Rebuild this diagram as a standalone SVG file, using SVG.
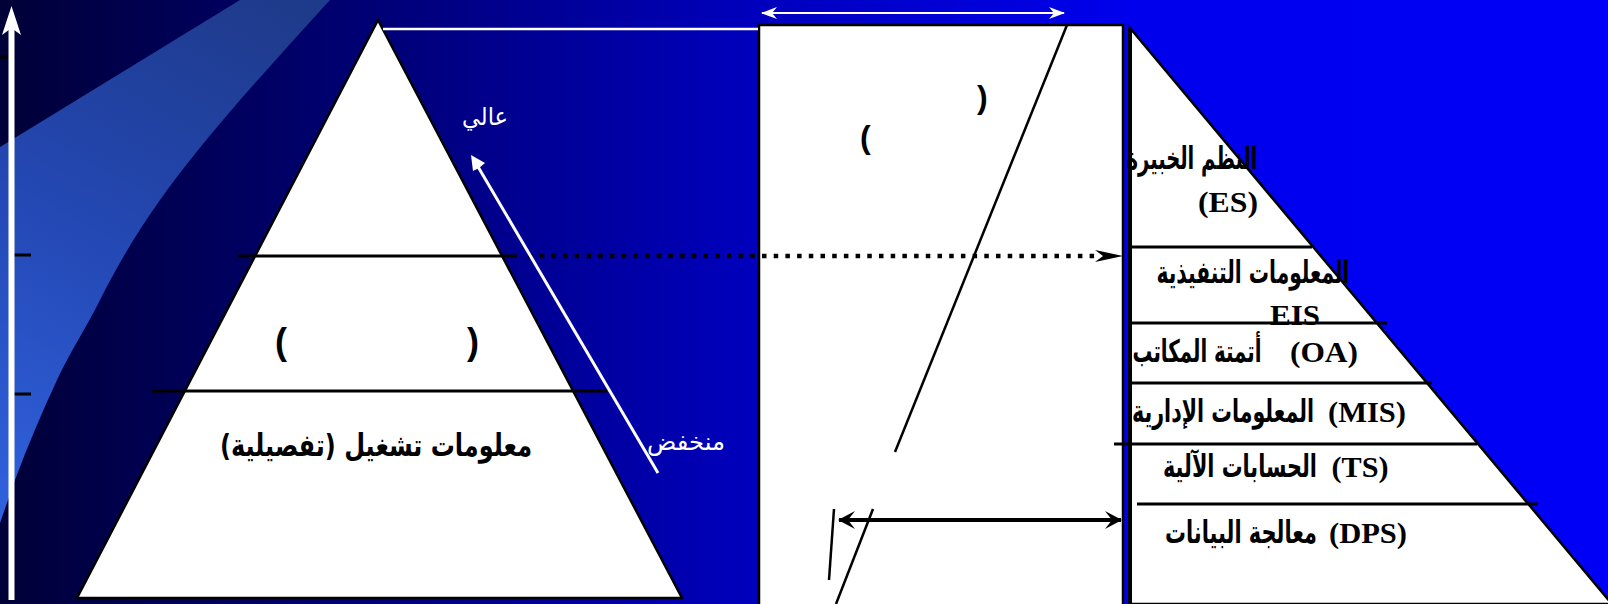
<svg xmlns="http://www.w3.org/2000/svg" width="1608" height="604" viewBox="0 0 1608 604">
<defs>
<linearGradient id="bg" x1="0" y1="0" x2="1608" y2="0" gradientUnits="userSpaceOnUse">
<stop offset="0" stop-color="#000038"/>
<stop offset="0.24" stop-color="#000078"/>
<stop offset="0.46" stop-color="#0000BB"/>
<stop offset="0.70" stop-color="#0000EC"/>
<stop offset="1" stop-color="#0000F8"/>
</linearGradient>
<linearGradient id="band" x1="285" y1="0" x2="0" y2="520" gradientUnits="userSpaceOnUse">
<stop offset="0" stop-color="#1e3a8a"/>
<stop offset="0.5" stop-color="#2448b4"/>
<stop offset="1" stop-color="#3062de"/>
</linearGradient>
<marker id="wh" viewBox="0 0 16 12" refX="15" refY="6" markerWidth="16" markerHeight="12" markerUnits="userSpaceOnUse" orient="auto-start-reverse">
<path d="M16,6 L0,0 L5,6 L0,12 Z" fill="#fff"/>
</marker>
<marker id="bh" viewBox="0 0 17 18" refX="16" refY="9" markerWidth="17" markerHeight="18" markerUnits="userSpaceOnUse" orient="auto-start-reverse">
<path d="M17,9 L0,0 L7,9 L0,18 Z" fill="#000"/>
</marker>
<style>
.ln{stroke:#000;stroke-width:3;fill:none}
.ar{font-family:"DejaVu Sans",sans-serif;font-weight:bold;font-size:31px;fill:#000}
.la{font-family:"Liberation Serif",serif;font-weight:bold;font-size:30px;fill:#000}
.wt{font-family:"DejaVu Sans",sans-serif;font-size:24px;fill:#fff}
.pr{font-family:"Liberation Sans",sans-serif;font-weight:bold;fill:#000}
</style>
</defs>
<rect x="0" y="0" width="1608" height="604" fill="url(#bg)"/>
<path d="M240,0 L330,0 C300,33 270,66 240,100 C210,135 185,165 160,200 C135,235 115,270 100,300 C85,330 70,352 57,380 C42,412 28,445 15,480 L0,523 L0,147 Z" fill="url(#band)"/>

<g id="axis">
<line x1="0" y1="57" x2="16" y2="57" class="ln"/>
<line x1="11" y1="255" x2="31" y2="255" class="ln"/>
<line x1="11" y1="394" x2="31" y2="394" class="ln"/>
<line x1="11.5" y1="600" x2="11.5" y2="26" stroke="#fff" stroke-width="6"/>
<path d="M11.5,6 L21,35 L11.5,28 L2,35 Z" fill="#fff"/>
</g>

<g id="left-pyramid">
<polygon points="378,20 682,598 77,598" fill="#fff" stroke="#000" stroke-width="2.5" stroke-linejoin="miter"/>
<line x1="238" y1="256" x2="517" y2="256" class="ln"/>
<line x1="152" y1="391" x2="607" y2="391" class="ln"/>
<text class="pr" font-size="36" x="275" y="354">(</text>
<text class="pr" font-size="36" x="467" y="354">)</text>
<text class="ar" font-size="38" x="376" y="456" text-anchor="middle" direction="rtl" textLength="312" lengthAdjust="spacingAndGlyphs">معلومات تشغيل (تفصيلية)</text>
</g>

<g id="level-labels">
<text class="wt" x="485" y="125" text-anchor="middle" textLength="46" lengthAdjust="spacingAndGlyphs">عالي</text>
<text class="wt" x="686" y="450" text-anchor="middle" textLength="78" lengthAdjust="spacingAndGlyphs">منخفض</text>
</g>

<g id="middle-box">
<rect x="759" y="25" width="364" height="600" fill="#fff" stroke="#000" stroke-width="2.5"/>
<line x1="1067" y1="25" x2="895" y2="452" stroke="#000" stroke-width="2.5"/>
<line x1="873" y1="509" x2="836" y2="604" stroke="#000" stroke-width="2.5"/>
<line x1="834" y1="509" x2="829" y2="580" stroke="#000" stroke-width="2.5"/>
<text class="pr" font-size="32" x="860" y="148">(</text>
<text class="pr" font-size="32" x="977" y="108">)</text>
</g>

<g id="right-pyramid">
<polygon points="1130,28 1612,604 1130,604" fill="#fff" stroke="#000" stroke-width="2.5"/>
<line x1="1130" y1="28" x2="1130" y2="604" stroke="#000" stroke-width="4"/>
<text class="ar" x="1192" y="169" text-anchor="middle" direction="rtl" textLength="131" lengthAdjust="spacingAndGlyphs">النظم الخبيرة</text>
<text class="la" x="1228" y="212" text-anchor="middle" textLength="60" lengthAdjust="spacingAndGlyphs">(ES)</text>
<line x1="1131" y1="247" x2="1312" y2="247" class="ln"/>
<text class="ar" x="1253" y="283" text-anchor="middle" direction="rtl" textLength="193" lengthAdjust="spacingAndGlyphs">المعلومات التنفيذية</text>
<text class="la" x="1295" y="325" text-anchor="middle" textLength="50" lengthAdjust="spacingAndGlyphs">EIS</text>
<line x1="1131" y1="323" x2="1387" y2="323" class="ln"/>
<text class="ar" x="1197" y="362" text-anchor="middle" direction="rtl" textLength="129" lengthAdjust="spacingAndGlyphs">أتمتة المكاتب</text>
<text class="la" x="1324" y="362" text-anchor="middle" textLength="68" lengthAdjust="spacingAndGlyphs">(OA)</text>
<line x1="1131" y1="383" x2="1432" y2="383" class="ln"/>
<text class="ar" x="1223" y="422" text-anchor="middle" direction="rtl" textLength="182" lengthAdjust="spacingAndGlyphs">المعلومات الإدارية</text>
<text class="la" x="1367" y="422" text-anchor="middle" textLength="78" lengthAdjust="spacingAndGlyphs">(MIS)</text>
<line x1="1114" y1="444" x2="1477" y2="444" class="ln"/>
<text class="ar" x="1240" y="477" text-anchor="middle" direction="rtl" textLength="154" lengthAdjust="spacingAndGlyphs">الحسابات الآلية</text>
<text class="la" x="1360" y="477" text-anchor="middle" textLength="57" lengthAdjust="spacingAndGlyphs">(TS)</text>
<line x1="1137" y1="504" x2="1538" y2="504" class="ln"/>
<text class="ar" x="1241" y="543" text-anchor="middle" direction="rtl" textLength="152" lengthAdjust="spacingAndGlyphs">معالجة البيانات</text>
<text class="la" x="1368" y="543" text-anchor="middle" textLength="78" lengthAdjust="spacingAndGlyphs">(DPS)</text>
</g>

<g id="connectors">
<line x1="383" y1="29" x2="758" y2="29" stroke="#fff" stroke-width="2.5"/>
<line x1="762" y1="13" x2="1064" y2="13" stroke="#fff" stroke-width="2" marker-start="url(#wh)" marker-end="url(#wh)"/>
<line x1="528" y1="256" x2="1098" y2="256" stroke="#000" stroke-width="4.5" stroke-dasharray="4.5 7.2"/>
<path d="M1123,256 L1095,250 L1103,256 L1095,262 Z" fill="#000"/>
<line x1="658" y1="473" x2="477" y2="165" stroke="#fff" stroke-width="3"/>
<path d="M471,155 L485,163 L479,168 L473,171 Z" fill="#fff"/>
<line x1="839" y1="520" x2="1121" y2="520" stroke="#000" stroke-width="4" marker-start="url(#bh)" marker-end="url(#bh)"/>
</g>
</svg>
